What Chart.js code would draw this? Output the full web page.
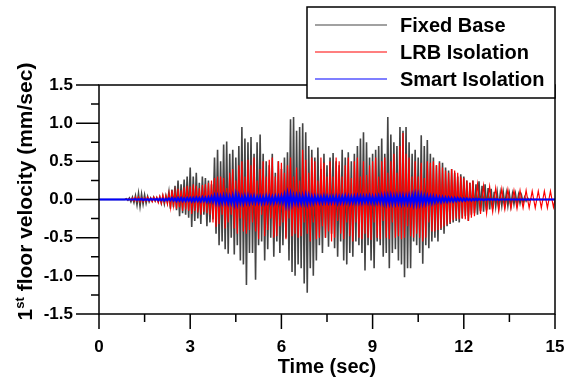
<!DOCTYPE html>
<html>
<head>
<meta charset="utf-8">
<script src="https://cdn.jsdelivr.net/npm/chart.js@4.4.1/dist/chart.umd.min.js"></script>
<style>
html, body { margin: 0; padding: 0; background: #fff; }
</style>
</head>
<body>
<canvas id="myChart" width="572" height="381"></canvas>
<script>
// samples every 0.05 sec, one row = 1 sec
var dt = 0.05;

var fixedBase = [
    0,0,0,0,0,0,0,0,0,0,0,0,0,0,0,0,0,0,0.01,-0.01,
    0.02,-0.03,0.03,-0.04,0.05,-0.07,0.08,-0.09,0.07,-0.06,0.06,-0.05,0.04,-0.03,0.02,-0.02,0.03,-0.02,0.02,-0.03,
    0.03,-0.05,0.04,-0.06,0.05,-0.04,0.1,-0.12,0.13,-0.1,0.18,-0.14,0.25,-0.22,0.2,-0.18,0.26,-0.2,0.3,-0.24,
    0.42,-0.36,0.3,-0.28,0.35,-0.25,0.22,-0.32,0.3,-0.2,0.28,-0.35,0.25,-0.3,0.2,-0.26,0.55,-0.45,0.65,-0.6,
    0.5,-0.55,0.72,-0.65,0.76,-0.71,0.6,-0.5,0.65,-0.72,0.55,-0.6,0.7,-0.8,0.95,-0.85,0.8,-1.12,0.75,-0.7,
    0.82,-0.7,0.6,-1.05,0.75,-0.6,0.85,-0.55,0.6,-0.8,0.5,-0.65,0.45,-0.5,0.6,-0.75,0.35,-0.55,0.5,-0.7,
    0.4,-0.6,0.55,-0.5,0.62,-0.8,1.05,-0.95,1.08,-1.0,0.9,-0.85,0.95,-0.9,1.0,-1.1,0.88,-1.22,0.7,-0.9,
    0.65,-1.0,0.55,-0.8,0.68,-0.6,0.4,-0.7,0.6,-0.5,0.45,-0.62,0.55,-0.45,0.61,-0.64,0.5,-0.75,0.45,-0.55,
    0.65,-0.8,0.55,-0.85,0.62,-0.7,0.5,-0.75,0.6,-0.55,0.7,-0.6,0.8,-0.7,0.88,-0.93,0.75,-0.6,0.55,-0.8,
    0.6,-0.9,0.65,-0.55,0.7,-0.6,0.8,-0.75,0.6,-0.7,1.08,-0.9,0.85,-0.7,0.75,-0.65,0.7,-0.8,0.95,-0.85,
    0.9,-1.02,0.95,-0.9,0.75,-0.9,0.6,-0.55,0.65,-0.6,0.55,-0.7,0.84,-0.84,0.7,-0.6,0.78,-0.64,0.6,-0.55,
    0.55,-0.5,0.45,-0.55,0.5,-0.4,0.48,-0.45,0.42,-0.35,0.38,-0.32,0.4,-0.3,0.35,-0.28,0.3,-0.3,0.33,-0.25,
    0.3,-0.22,0.25,-0.28,0.22,-0.2,0.25,-0.18,0.2,-0.2,0.24,-0.15,0.18,-0.16,0.2,-0.14,0.15,-0.13,0.14,-0.12,
    0.1,-0.09,0.09,-0.1,0.08,-0.08,0.09,-0.07,0.08,-0.08,0.07,-0.08,0.07,-0.06,0.07,-0.06,0.06,-0.05,0.05,-0.04,
    0.03,-0.02,0.02,-0.01,0.01,0,0,0,0,0,0,0,0,0,0,0,0,0,0,0,
    0
];

var lrbIsolation = [
    0,0,0,0,0,0,0,0,0,0,0,0,0,0,0,0,0,0,0.005,-0.005,
    0.01,-0.01,0.02,-0.02,0.03,-0.02,0.03,-0.03,0.02,-0.03,0.02,-0.02,0.03,-0.02,0.02,-0.03,0.03,-0.02,0.03,-0.04,
    0.04,-0.05,0.06,-0.04,0.05,-0.06,0.08,-0.1,0.12,-0.08,0.1,-0.12,0.14,-0.1,0.12,-0.15,0.16,-0.13,0.18,-0.15,
    0.17,-0.19,0.2,-0.15,0.18,-0.17,0.15,-0.2,0.19,-0.16,0.2,-0.18,0.22,-0.2,0.25,-0.3,0.28,-0.36,0.3,-0.32,
    0.3,-0.2,0.28,-0.38,0.15,-0.3,0.35,-0.2,0.4,-0.38,0.25,-0.45,0.45,-0.25,0.5,-0.42,0.3,-0.45,0.52,-0.4,
    0.45,-0.3,0.55,-0.42,0.25,-0.52,0.4,-0.2,0.5,-0.48,0.3,-0.4,0.52,-0.25,0.55,-0.5,0.3,-0.48,0.5,-0.35,
    0.48,-0.3,0.35,-0.52,0.45,-0.25,0.55,-0.48,0.3,-0.45,0.42,-0.5,0.25,-0.48,0.65,-0.3,0.52,-0.45,0.35,-0.55,
    0.55,-0.3,0.5,-0.52,0.25,-0.5,0.55,-0.35,0.48,-0.5,0.3,-0.42,0.5,-0.55,0.3,-0.5,0.55,-0.28,0.5,-0.45,
    0.3,-0.52,0.45,-0.3,0.55,-0.48,0.28,-0.55,0.5,-0.3,0.55,-0.5,0.3,-0.52,0.5,-0.45,0.32,-0.5,0.45,-0.53,
    0.5,-0.3,0.55,-0.5,0.3,-0.52,0.5,-0.28,0.55,-0.5,0.35,-0.52,0.5,-0.3,0.6,-0.5,0.35,-0.48,0.7,-0.52,
    0.87,-0.5,0.6,-0.35,0.55,-0.48,0.3,-0.5,0.5,-0.45,0.3,-0.5,0.48,-0.55,0.28,-0.5,0.5,-0.3,0.48,-0.42,
    0.5,-0.42,0.45,-0.4,0.48,-0.38,0.42,-0.35,0.38,-0.33,0.35,-0.3,0.4,-0.27,0.38,-0.25,0.35,-0.26,0.3,-0.25,
    0.28,-0.26,0.25,-0.28,0.22,-0.24,0.25,-0.22,0.03,0.2,0,-0.19,0.02,0.18,-0.01,-0.18,0.02,0.17,-0.02,-0.16,
    0.01,0.15,-0.01,-0.15,0.01,0.14,-0.01,-0.13,0,0.13,0,-0.12,0,0.12,0,-0.12,0,0.12,0,-0.11,
    0,0.12,0,-0.11,0,0.11,0,-0.11,0,0.11,0,-0.11,0,0.11,0,-0.11,0,0.11,0,-0.1,
    0
];

var smartIsolation = [
    0,0,0,0,0,0,0,0,0,0,0,0,0,0,0,0,0,0,0,0,
    0,0,0,0,0.005,-0.005,0.005,-0.005,0.01,-0.01,0.005,-0.005,0.005,-0.01,0.01,-0.005,0.005,-0.005,0.01,-0.01,
    0.01,-0.01,0.01,-0.015,0.01,-0.01,0.015,-0.01,0.02,-0.015,0.015,-0.02,0.02,-0.015,0.02,-0.02,0.015,-0.02,0.02,-0.015,
    0.02,-0.025,0.02,-0.02,0.025,-0.02,0.02,-0.025,0.03,-0.02,0.025,-0.03,0.03,-0.025,0.035,-0.03,0.05,-0.045,0.045,-0.05,
    0.04,-0.045,0.05,-0.04,0.045,-0.05,0.04,-0.045,0.05,-0.06,0.065,-0.055,0.05,-0.045,0.04,-0.05,0.045,-0.04,0.05,-0.045,
    0.04,-0.035,0.045,-0.04,0.035,-0.04,0.04,-0.045,0.035,-0.04,0.045,-0.035,0.04,-0.04,0.035,-0.045,0.04,-0.035,0.04,-0.04,
    0.045,-0.04,0.06,-0.07,0.075,-0.065,0.07,-0.06,0.05,-0.045,0.05,-0.055,0.045,-0.05,0.05,-0.045,0.06,-0.055,0.05,-0.045,
    0.04,-0.045,0.04,-0.035,0.04,-0.04,0.035,-0.04,0.045,-0.035,0.04,-0.04,0.035,-0.04,0.04,-0.035,0.04,-0.045,0.035,-0.04,
    0.04,-0.04,0.045,-0.035,0.04,-0.045,0.035,-0.04,0.04,-0.04,0.045,-0.04,0.04,-0.045,0.04,-0.035,0.04,-0.04,0.045,-0.04,
    0.04,-0.045,0.04,-0.04,0.045,-0.04,0.05,-0.045,0.05,-0.055,0.05,-0.05,0.055,-0.05,0.045,-0.05,0.05,-0.045,0.05,-0.055,
    0.05,-0.045,0.045,-0.05,0.05,-0.05,0.055,-0.06,0.065,-0.06,0.06,-0.055,0.055,-0.05,0.045,-0.05,0.045,-0.04,0.04,-0.045,
    0.04,-0.035,0.035,-0.03,0.03,-0.035,0.03,-0.025,0.025,-0.03,0.025,-0.02,0.02,-0.025,0.02,-0.02,0.02,-0.015,0.015,-0.02,
    0.015,-0.015,0.015,-0.01,0.01,-0.015,0.01,-0.01,0.01,-0.01,0.01,-0.005,0.005,-0.01,0.005,-0.005,0.005,-0.005,0.005,-0.005,
    0.005,-0.005,0.005,-0.005,0,0,0,0,0,0,0,0,0,0,0,0,0,0,0,0,
    0,0,0,0,0,0,0,0,0,0,0,0,0,0,0,0,0,0,0,0,
    0
];

var seriesNames = ['Fixed Base', 'LRB Isolation', 'Smart Isolation'];
var seriesColors = ['#444444', '#ff0000', '#0000ff'];
var seriesWidths = [1.6, 1.2, 2];
var xTicks = [0, 3, 6, 9, 12, 15];
var yTicks = [-1.5, -1.0, -0.5, 0.0, 0.5, 1.0, 1.5];

var FONT = 'Liberation Sans, Arial, sans-serif';

function toPoints(arr) {
    return arr.map(function(v, i) { return { x: i * dt, y: v }; });
}

// box, tick marks, axis titles and the boxed legend
var framePlugin = {
    id: 'frame',
    afterDraw: function(chart) {
        var c = chart.ctx, a = chart.chartArea;
        var xs = chart.scales.x, ys = chart.scales.y;
        c.save();
        c.strokeStyle = '#000';
        c.lineWidth = 1.5;
        c.strokeRect(a.left, a.top, a.right - a.left, a.bottom - a.top);

        c.beginPath();
        for (var t = xTicks[0]; t <= xTicks[xTicks.length - 1]; t += 1.5) {
            var px = xs.getPixelForValue(t);
            var len = (t % 3 === 0) ? 15 : 8;
            c.moveTo(px, a.bottom);
            c.lineTo(px, a.bottom + len);
        }
        for (var v = yTicks[0]; v <= yTicks[yTicks.length - 1]; v += 0.25) {
            var py = ys.getPixelForValue(v);
            var l2 = (Math.abs(v * 2 - Math.round(v * 2)) < 1e-9) ? 23 : 8;
            c.moveTo(a.left, py);
            c.lineTo(a.left - l2, py);
        }
        c.stroke();

        // x title
        c.fillStyle = '#000';
        c.font = 'bold 20px ' + FONT;
        c.textAlign = 'center';
        c.textBaseline = 'alphabetic';
        c.fillText('Time (sec)', (a.left + a.right) / 2, 373);

        // y title with superscript
        var big = 'bold 21px ' + FONT, small = 'bold 13px ' + FONT;
        c.font = big;
        var w1 = c.measureText('1').width;
        var w3 = c.measureText(' floor velocity (mm/sec)').width;
        c.font = small;
        var w2 = c.measureText('st').width;
        var total = w1 + w2 + w3;
        c.translate(31.5, 191.5);
        c.rotate(-Math.PI / 2);
        c.textAlign = 'left';
        var x0 = -total / 2;
        c.font = big;
        c.fillText('1', x0, 0);
        c.font = small;
        c.fillText('st', x0 + w1, -7.5);
        c.font = big;
        c.fillText(' floor velocity (mm/sec)', x0 + w1 + w2, 0);
        c.restore();

        // legend
        c.save();
        c.fillStyle = '#fff';
        c.fillRect(307, 7, 248, 91);
        c.strokeStyle = '#000';
        c.lineWidth = 1.5;
        c.strokeRect(307, 7, 248, 91);
        c.font = 'bold 20px ' + FONT;
        c.textAlign = 'left';
        c.textBaseline = 'middle';
        chart.data.datasets.forEach(function(ds, i) {
            var y = 25 + i * 27;
            c.strokeStyle = ds.borderColor;
            c.lineWidth = 1.2;
            c.beginPath();
            c.moveTo(315, y);
            c.lineTo(387, y);
            c.stroke();
            c.fillStyle = '#000';
            c.fillText(ds.label, 400, y + 1);
        });
        c.restore();
    }
};

window.onload = function() {
    var ctx = document.getElementById('myChart').getContext('2d');
    var allSeries = [fixedBase, lrbIsolation, smartIsolation];
    window.myChart = new Chart(ctx, {
        type: 'line',
        data: {
            datasets: allSeries.map(function(arr, i) {
                return {
                    label: seriesNames[i],
                    data: toPoints(arr),
                    borderColor: seriesColors[i],
                    borderWidth: seriesWidths[i],
                    pointRadius: 0,
                    tension: 0,
                    fill: false,
                    order: 3 - i
                };
            })
        },
        options: {
            responsive: false,
            animation: false,
            layout: { padding: { top: 85, right: 17, left: 0, bottom: 0 } },
            plugins: {
                legend: { display: false },
                tooltip: { enabled: false }
            },
            scales: {
                x: {
                    type: 'linear',
                    min: 0,
                    max: 15,
                    afterFit: function(s) {
                        s.height = 67;
                        s.paddingLeft = 0;
                        s.paddingRight = 0;
                    },
                    grid: { display: false, drawTicks: false },
                    border: { display: false },
                    ticks: {
                        stepSize: 3,
                        padding: 23,
                        color: '#000',
                        maxRotation: 0,
                        font: { family: FONT, weight: 'bold', size: 17 }
                    }
                },
                y: {
                    min: -1.5,
                    max: 1.5,
                    afterFit: function(s) {
                        s.width = 99;
                        s.paddingTop = 0;
                        s.paddingBottom = 0;
                    },
                    grid: { display: false, drawTicks: false },
                    border: { display: false },
                    ticks: {
                        stepSize: 0.5,
                        padding: 26,
                        color: '#000',
                        font: { family: FONT, weight: 'bold', size: 17 },
                        callback: function(v) { return v.toFixed(1); }
                    }
                }
            }
        },
        plugins: [framePlugin]
    });
};
</script>
</body>
</html>
